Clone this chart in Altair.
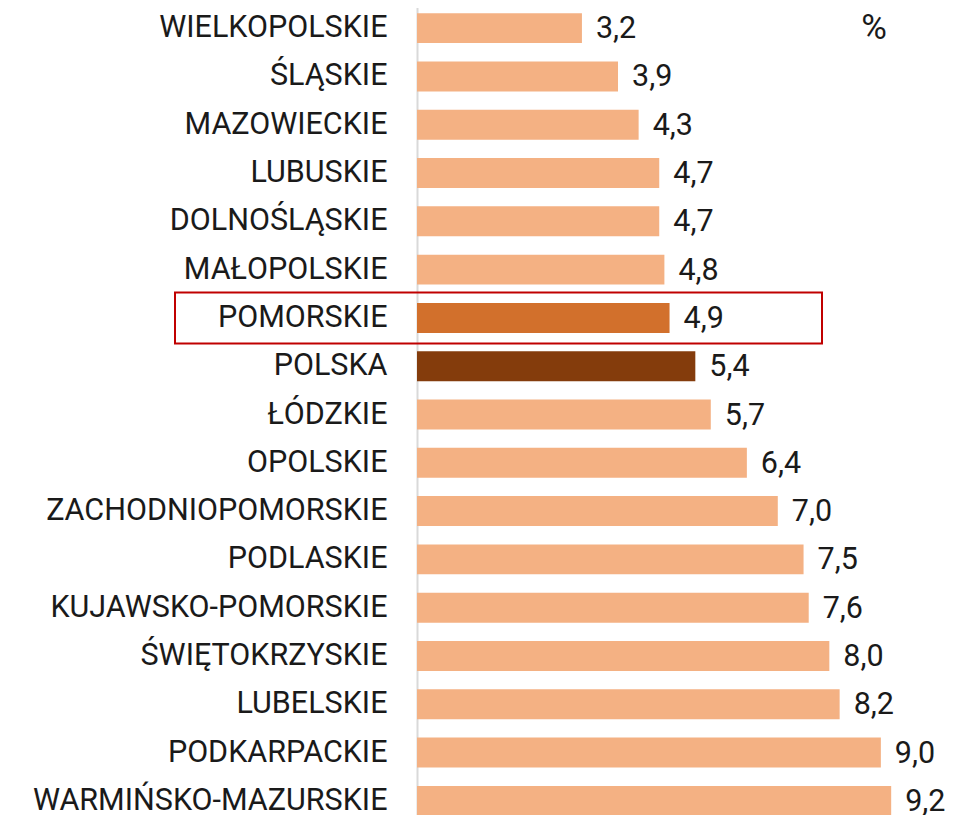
import altair as alt
import pandas as pd

regions = ["WIELKOPOLSKIE", "ŚLĄSKIE", "MAZOWIECKIE", "LUBUSKIE", "DOLNOŚLĄSKIE",
           "MAŁOPOLSKIE", "POMORSKIE", "POLSKA", "ŁÓDZKIE", "OPOLSKIE",
           "ZACHODNIOPOMORSKIE", "PODLASKIE", "KUJAWSKO-POMORSKIE", "ŚWIĘTOKRZYSKIE",
           "LUBELSKIE", "PODKARPACKIE", "WARMIŃSKO-MAZURSKIE"]
values = [3.2, 3.9, 4.3, 4.7, 4.7, 4.8, 4.9, 5.4, 5.7, 6.4, 7.0, 7.5, 7.6, 8.0, 8.2, 9.0, 9.2]
groups = ["region"] * 6 + ["pomorskie", "polska"] + ["region"] * 9

df = pd.DataFrame({
    "region": regions,
    "value": values,
    "group": groups,
    "label": [f"{v:.1f}".replace(".", ",") for v in values],
})

FONT = "Roboto"
TEXT = "#1a1a1a"

y = alt.Y("region:N", sort=regions, title=None,
          scale=alt.Scale(range=[-4, 817], paddingInner=0.38, paddingOuter=0.19),
          axis=alt.Axis(labelFont=FONT, labelFontSize=30.5, labelColor=TEXT,
                        labelPadding=30, ticks=False, domainColor="#d9d9d9",
                        domainWidth=2, labelLimit=500))
x = alt.X("value:Q", title=None, scale=alt.Scale(domain=[0, 10.38], nice=False),
          axis=None)

bars = alt.Chart(df).mark_bar().encode(
    x=x, y=y,
    color=alt.Color("group:N", legend=None,
                    scale=alt.Scale(domain=["region", "pomorskie", "polska"],
                                    range=["#F4B183", "#D2702C", "#843C0C"])),
)

labels = alt.Chart(df).mark_text(align="left", baseline="middle", dx=14, dy=1,
                                 font=FONT, fontSize=30.5, color=TEXT).encode(
    x=x, y=alt.Y("region:N", sort=regions), text="label:N")

box = alt.Chart(df[df["region"] == "POMORSKIE"]).mark_rect(
    height=51, fill=None, filled=False, stroke="#C00000", strokeWidth=2).encode(
    y=alt.Y("region:N", sort=regions),
    x=alt.value(-242), x2=alt.value(405))

pct = alt.Chart(df.head(1)).mark_text(align="center", baseline="middle",
                                      font=FONT, fontSize=35, color=TEXT).encode(
    x=alt.datum(8.87), y=alt.Y("region:N", sort=regions), text=alt.value("%"))

chart = alt.layer(bars, labels, box, pct).properties(
    width=535, height=807,
    autosize=alt.AutoSizeParams(type="none"),
    padding={"left": 409, "top": 0, "right": 0, "bottom": 0},
).configure_view(stroke=None)

chart.save("out.html", embed_options={"renderer": "svg", "actions": False})
